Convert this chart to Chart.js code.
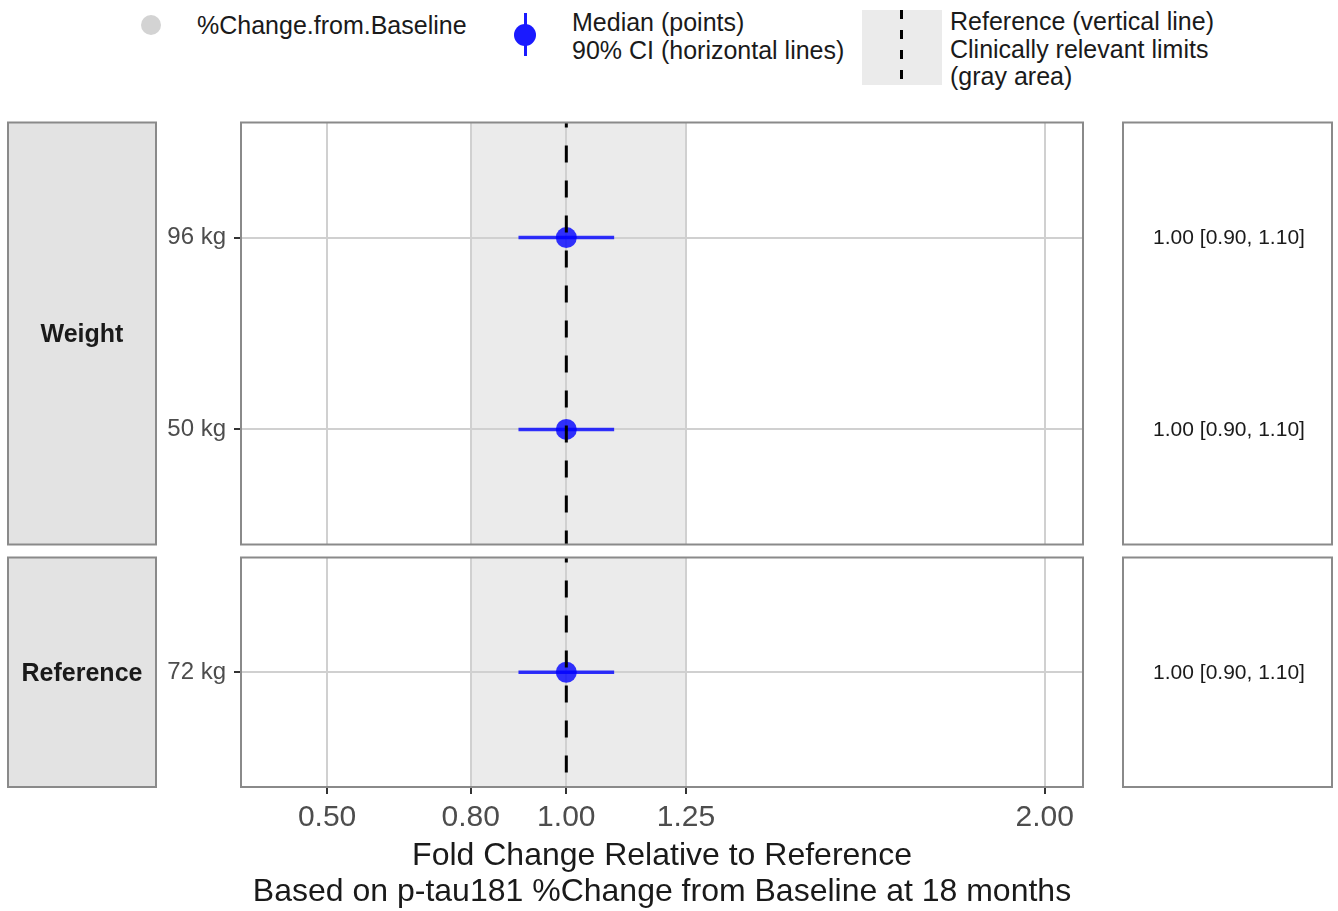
<!DOCTYPE html>
<html>
<head>
<meta charset="utf-8">
<script src="https://cdn.jsdelivr.net/npm/chart.js@4/dist/chart.umd.min.js"></script>
<style>
  body { margin: 0; background: #fff; width: 1338px; height: 911px; position: relative; overflow: hidden;
         font-family: "Liberation Sans", Arial, sans-serif; color: #1a1a1a; }
  canvas { position: absolute; left: 0; }
  .lg { position: absolute; font-size: 25px; line-height: 28px; color: #1a1a1a; white-space: nowrap; }
</style>
</head>
<body>
<!-- legend -->
<div style="position:absolute;left:141px;top:15px;width:20px;height:20px;border-radius:50%;background:#d3d3d3;"></div>
<div class="lg" style="left:197px;top:11px;">%Change.from.Baseline</div>
<div style="position:absolute;left:524px;top:13px;width:3px;height:43px;background:#1a1aff;"></div>
<div style="position:absolute;left:514px;top:24px;width:22px;height:22px;border-radius:50%;background:#1a1aff;"></div>
<div class="lg" style="left:572px;top:8px;">Median (points)<br>90% CI (horizontal lines)</div>
<div style="position:absolute;left:862px;top:10px;width:80px;height:75px;background:#ebebeb;"></div>
<div style="position:absolute;left:900px;top:10px;width:3px;height:75px;background:repeating-linear-gradient(#000 0 9px, transparent 9px 20px);"></div>
<div class="lg" style="left:950px;top:8px;line-height:27.5px;">Reference (vertical line)<br>Clinically relevant limits<br>(gray area)</div>

<canvas id="weightPanel" style="top:112px;" width="1338" height="443"></canvas>
<canvas id="refPanel" style="top:547px;" width="1338" height="364"></canvas>

<script>
// facet: Weight
var weightLabels = ['96 kg', '50 kg'];
var weightMedian = [1.00, 1.00];
var weightLow = [0.90, 0.90];
var weightHigh = [1.10, 1.10];

// facet: Reference
var refLabels = ['72 kg'];
var refMedian = [1.00];
var refLow = [0.90];
var refHigh = [1.10];

var xTicks = [0.5, 0.8, 1.0, 1.25, 2.0];
var xLimits = [0.4, 2.0];
var refValue = 1.0;
var clinicalLimits = [0.8, 1.25];

var xExp = (xLimits[1] - xLimits[0]) * 0.05;
var gridColor = '#d0d0d0';
var borderColor = '#8a8a8a';

// gray area behind the grid
var limitsArea = {
    id: 'limitsArea',
    beforeDraw: function (chart) {
        var ctx = chart.ctx, a = chart.chartArea, x = chart.scales.x;
        var x0 = x.getPixelForValue(clinicalLimits[0]);
        var x1 = x.getPixelForValue(clinicalLimits[1]);
        ctx.save();
        ctx.fillStyle = '#ebebeb';
        ctx.fillRect(x0, a.top, x1 - x0, a.bottom - a.top);
        ctx.restore();
    }
};

// strip on the left, panel border, table panel on the right
var facetExtras = {
    id: 'facetExtras',
    afterDraw: function (chart, args, opts) {
        var ctx = chart.ctx, a = chart.chartArea, y = chart.scales.y;
        ctx.save();
        // strip
        ctx.fillStyle = '#e3e3e3';
        ctx.fillRect(8, a.top, 148, a.bottom - a.top);
        ctx.strokeStyle = borderColor;
        ctx.lineWidth = 2;
        ctx.strokeRect(8, a.top, 148, a.bottom - a.top);
        ctx.fillStyle = '#1a1a1a';
        ctx.font = 'bold 25px "Liberation Sans", Arial, sans-serif';
        ctx.textAlign = 'center';
        ctx.textBaseline = 'middle';
        ctx.fillText(opts.strip, 82, (a.top + a.bottom) / 2 + 2);
        // panel border
        ctx.strokeRect(a.left, a.top, a.right - a.left, a.bottom - a.top);
        // table panel
        ctx.strokeRect(1123, a.top, 209, a.bottom - a.top);
        ctx.font = '21px "Liberation Sans Narrow", "Liberation Sans", Arial, sans-serif';
        for (var i = 0; i < opts.median.length; i++) {
            var txt = opts.median[i].toFixed(2) + ' [' + opts.low[i].toFixed(2) + ', ' + opts.high[i].toFixed(2) + ']';
            ctx.fillText(txt, 1229, y.getPixelForValue(i) + 1);
        }
        ctx.restore();
    }
};

function makePanel(id, strip, labels, median, low, high, bottomAxis) {
    var n = labels.length;
    var datasets = [];
    // reference line
    datasets.push({
        type: 'line',
        data: [{x: refValue, y: -0.6}, {x: refValue, y: n - 0.4}],
        borderColor: '#000',
        borderWidth: 3,
        borderDash: [17, 18],
        borderDashOffset: 12,
        pointRadius: 0
    });
    // 90% CI lines
    for (var i = 0; i < n; i++) {
        datasets.push({
            type: 'line',
            data: [{x: low[i], y: i}, {x: high[i], y: i}],
            borderColor: 'rgba(0,0,255,0.8)',
            borderWidth: 3.5,
            pointRadius: 0
        });
    }
    // medians
    datasets.push({
        type: 'scatter',
        data: median.map(function (m, i) { return {x: m, y: i}; }),
        backgroundColor: 'rgba(0,0,255,0.8)',
        borderWidth: 0,
        pointRadius: 10.5
    });

    return new Chart(document.getElementById(id).getContext('2d'), {
        type: 'scatter',
        data: {datasets: datasets},
        plugins: [limitsArea, facetExtras],
        options: {
            responsive: false,
            animation: false,
            events: [],
            layout: {padding: {left: 156, right: 255, top: 10, bottom: bottomAxis ? 0 : 10}},
            plugins: {
                legend: {display: false},
                tooltip: {enabled: false},
                facetExtras: {strip: strip, median: median, low: low, high: high}
            },
            scales: {
                x: {
                    type: 'linear',
                    min: xLimits[0] - xExp,
                    max: xLimits[1] + xExp,
                    afterBuildTicks: function (s) { s.ticks = xTicks.map(function (v) { return {value: v}; }); },
                    afterFit: function (s) {
                        s.height = bottomAxis ? 124 : 0;
                        s.paddingLeft = 0; s.paddingRight = 0;
                    },
                    grid: {color: gridColor, lineWidth: 2, drawTicks: bottomAxis, tickLength: 7, tickColor: '#333'},
                    border: {display: false},
                    ticks: {
                        display: bottomAxis,
                        padding: 6,
                        color: '#4d4d4d',
                        font: {size: 30, family: '"Liberation Sans", Arial, sans-serif'},
                        callback: function (v) { return v.toFixed(2); }
                    },
                    title: {
                        display: bottomAxis,
                        text: ['Fold Change Relative to Reference', 'Based on p-tau181 %Change from Baseline at 18 months'],
                        color: '#1a1a1a',
                        font: {size: 32, family: '"Liberation Sans", Arial, sans-serif', lineHeight: 1.125},
                        padding: {top: 0, bottom: 1}
                    }
                },
                y: {
                    type: 'linear',
                    reverse: true,
                    min: -0.6,
                    max: n - 0.4,
                    afterBuildTicks: function (s) { s.ticks = labels.map(function (l, i) { return {value: i}; }); },
                    afterFit: function (s) {
                        s.width = 85;
                        s.paddingTop = 0; s.paddingBottom = 0;
                    },
                    grid: {color: gridColor, lineWidth: 2, tickLength: 7, tickColor: '#333'},
                    border: {display: false},
                    ticks: {
                        padding: 8,
                        color: '#4d4d4d',
                        font: {size: 24, family: '"Liberation Sans", Arial, sans-serif'},
                        callback: function (v) { return labels[v]; }
                    }
                }
            }
        }
    });
}

makePanel('weightPanel', 'Weight', weightLabels, weightMedian, weightLow, weightHigh, false);
makePanel('refPanel', 'Reference', refLabels, refMedian, refLow, refHigh, true);
</script>
</body>
</html>
